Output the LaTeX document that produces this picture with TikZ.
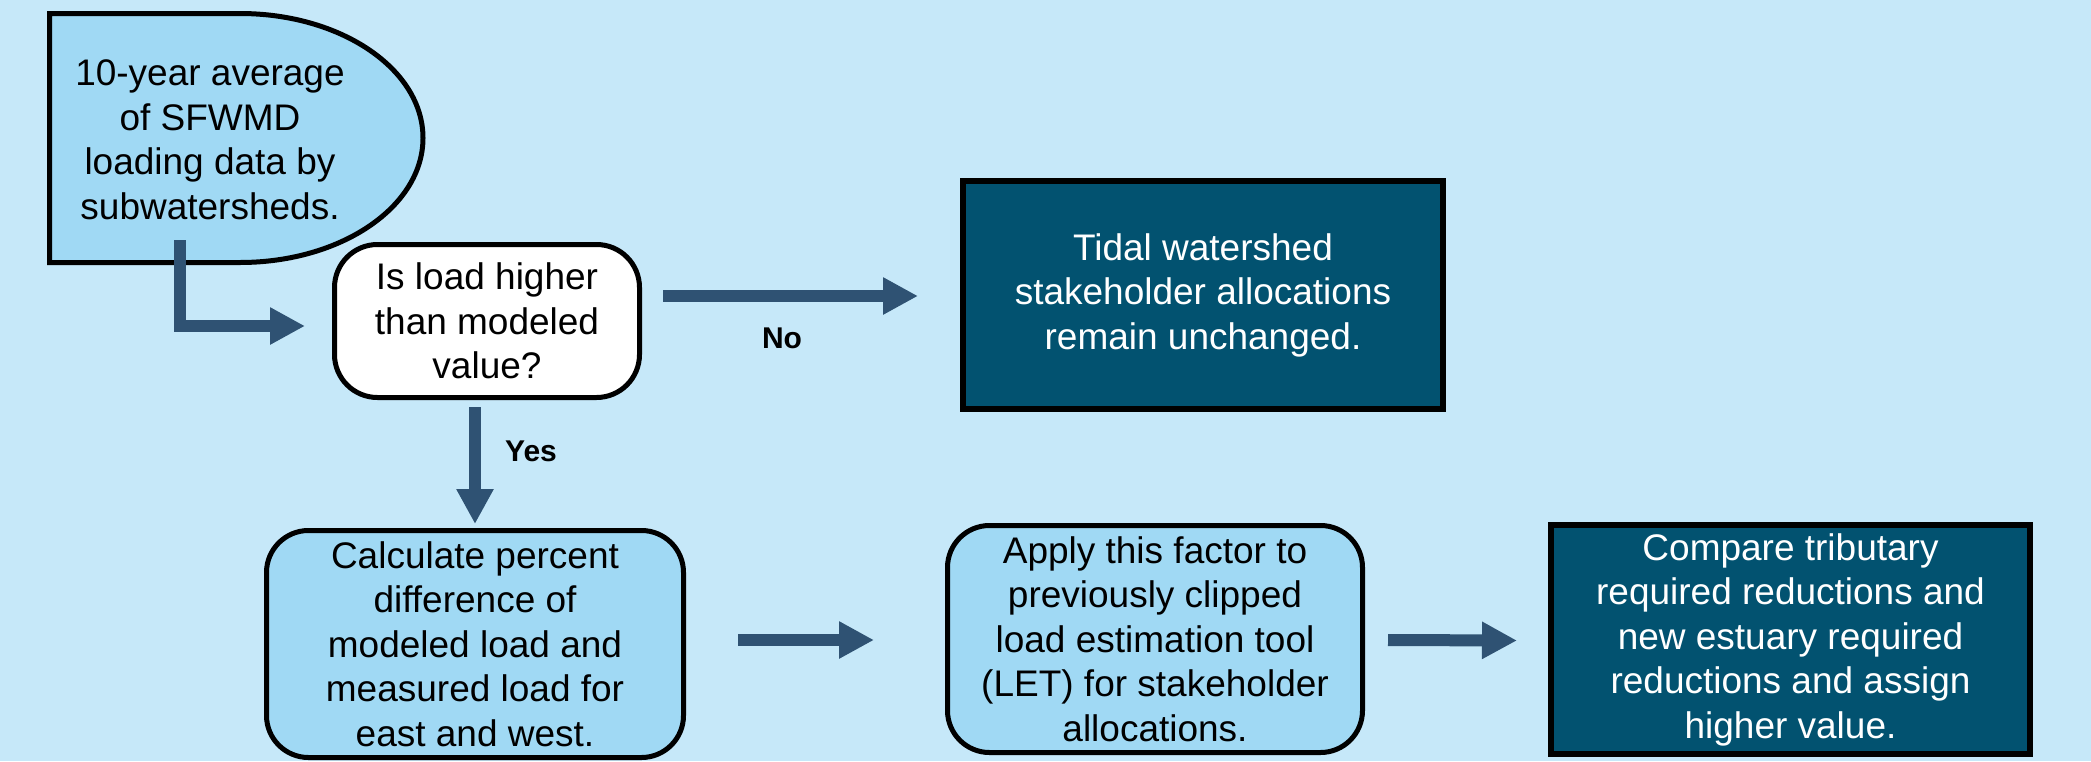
\documentclass[tikz,border=0pt]{standalone}
\usepackage{fontspec}
\setmainfont{Liberation Sans}
\usetikzlibrary{arrows.meta,calc}
\definecolor{bg}{RGB}{198,232,249}
\definecolor{lightfill}{RGB}{160,217,244}
\definecolor{darkfill}{RGB}{2,82,112}
\definecolor{arrowc}{RGB}{47,82,115}
\tikzset{
  txt/.style={align=center, font=\fontsize{37}{44.5}\selectfont, inner sep=0pt},
  lightbox/.style={txt, draw=black, line width=5pt, fill=lightfill, rounded corners=42pt},
  decision/.style={txt, draw=black, line width=5pt, fill=white, rounded corners=43pt},
  darkbox/.style={txt, draw=black, line width=6pt, fill=darkfill, text=white},
  lbl/.style={font=\bfseries\fontsize{30}{36}\selectfont, inner sep=0pt},
  arr/.style={draw=arrowc, line width=12pt, -{Triangle[length=35pt,width=35pt]}},
}
\begin{document}
\begin{tikzpicture}[x=1pt,y=-1pt]
\fill[bg] (0,0) rectangle (2091,761);
\useasboundingbox (0,0) rectangle (2091,761);

% start shape (D shape)
\node[inner sep=0pt, outer sep=0pt, minimum width=374pt, minimum height=250pt] (n1) at (236,138) {};
\draw[line width=5pt, fill=lightfill, line join=miter]
  (49.5,13.5) -- (240,13.5) arc[start angle=-90, end angle=90, x radius=183, y radius=124.5]
  -- (49.5,262.5) -- cycle;
\node[txt] (n1t) at (210,140) {10-year average\\of SFWMD\\loading data by\\subwatersheds.};

\node[decision, minimum width=305pt, minimum height=153pt] (n2) at (487,321)
  {Is load higher\\than modeled\\value?};
\node[darkbox, minimum width=480pt, minimum height=228pt] (n3) at (1203,295)
  {Tidal watershed\\stakeholder allocations\\remain unchanged.};
\node[lightbox, minimum width=417pt, minimum height=227pt] (n4) at (475,644)
  {Calculate percent\\difference of\\modeled load and\\measured load for\\east and west.};
\node[lightbox, minimum width=415pt, minimum height=227pt] (n5) at (1155,639)
  {Apply this factor to\\previously clipped\\load estimation tool\\(LET) for stakeholder\\allocations.};
\node[darkbox, minimum width=479pt, minimum height=229pt] (n6) at (1790.5,639.5)
  {Compare tributary\\required reductions and\\new estuary required\\reductions and assign\\higher value.};

\node[lbl] (no) at (782,338) {No};
\node[lbl] (yes) at (531,451) {Yes};

\coordinate (a1) at ($(n1.south west)+(131,-23)$);
\draw[arr] (a1) |- ($(n2.west)+(-27,5)$);
\draw[arr] ($(n2.east |- n3.west)+(21,1)$) -- ($(n3.west)+(-42,1)$);
\draw[arr] ($(n2.south -| n4.north)+(0,7)$) -- ($(n4.north)+(0,-4)$);
\draw[arr] ($(n4.east |- n5.west)+(52,1)$) -- ($(n5.west)+(-71,1)$);
\draw[arr] ($(n5.east)+(23,1)$) -- ($(n6.west)+(-31,1)$);
\end{tikzpicture}
\end{document}
